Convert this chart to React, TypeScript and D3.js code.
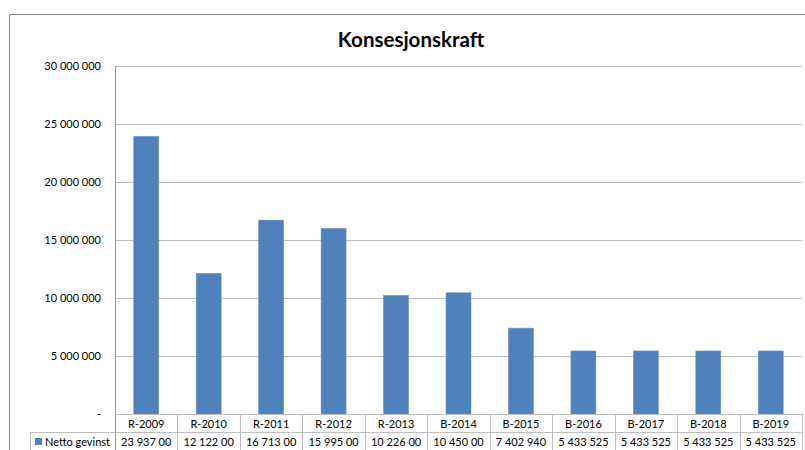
import React from "react";
import * as d3 from "d3";

const categories = ["R-2009", "R-2010", "R-2011", "R-2012", "R-2013", "B-2014", "B-2015", "B-2016", "B-2017", "B-2018", "B-2019"];
const values = [23937000, 12122000, 16713000, 15995000, 10226000, 10450000, 7402940, 5433525, 5433525, 5433525, 5433525];
const yTicks = [0, 5000000, 10000000, 15000000, 20000000, 25000000, 30000000];
const seriesName = "Netto gevinst";
const title = "Konsesjonskraft";

const W = 805;
const H = 450;
const FONT = "Lato, 'Open Sans', sans-serif";

const fmt = (v: number) => {
  if (v === 0) return "-";
  const s = d3.format(",")(v).replace(/,/g, " ");
  return s;
};
const cellText = (v: number) => {
  const s = fmt(v);
  return s.length > 9 ? s.slice(0, 9) : s;
};

export default function App() {
  const left = 115;
  const right = 802;
  const top = 66;
  const bottom = 414;
  const x = d3.scaleBand<string>().domain(categories).range([left, right]).paddingInner(0.6).paddingOuter(0.3);
  const xb = d3.scaleBand<string>().domain(categories).range([left, right]);
  const y = d3.scaleLinear().domain([0, 30000000]).range([bottom, top]);
  const row1 = bottom;
  const row2 = 432;
  const row3 = 451;

  return (
    <svg width={W} height={H} style={{ position: "absolute", left: 0, top: 0, background: "#fff" }} fontFamily={FONT}>
      <rect x={0} y={0} width={W} height={H} fill="#fff" />
      {/* outer border */}
      <path d={`M9.5,${H} V14.5 H${W}`} fill="none" stroke="#868686" strokeWidth={1} />
      <text x={411} y={47} textAnchor="middle" fontSize={20.5} fontWeight="bold" fill="#000">{title}</text>
      {/* gridlines */}
      {yTicks.map((t) => (
        <g key={t}>
          {t > 0 && <line x1={left} x2={right} y1={Math.round(y(t)) + 0.5} y2={Math.round(y(t)) + 0.5} stroke="#bfbfbf" strokeWidth={1} />}
          <text x={101} y={y(t) + 4} textAnchor="end" fontSize={11} fill="#000">{fmt(t)}</text>
        </g>
      ))}
      {/* bars */}
      {categories.map((c, i) => (
        <rect key={c} x={x(c)} y={y(values[i])} width={x.bandwidth()} height={bottom - y(values[i])} fill="#4f81bd" stroke="#6f97c9" strokeWidth={0.6} />
      ))}
      {/* axis / table lines */}
      <line x1={left + 0.5} x2={left + 0.5} y1={top} y2={H} stroke="#9a9a9a" />
      <line x1={left} x2={right} y1={row1 + 0.5} y2={row1 + 0.5} stroke="#bfbfbf" />
      <line x1={30} x2={right} y1={row2 + 0.5} y2={row2 + 0.5} stroke="#bfbfbf" />
      <line x1={30} x2={right} y1={row3 + 0.5} y2={row3 + 0.5} stroke="#bfbfbf" />
      <line x1={30.5} x2={30.5} y1={row2} y2={H} stroke="#bfbfbf" />
      {categories.map((c) => (
        <line key={c} x1={Math.round((xb(c) as number) + xb.bandwidth()) + 0.5} x2={Math.round((xb(c) as number) + xb.bandwidth()) + 0.5} y1={row1} y2={H} stroke="#bfbfbf" />
      ))}
      {categories.map((c, i) => (
        <g key={c}>
          <text x={(xb(c) as number) + xb.bandwidth() / 2} y={row1 + 14} textAnchor="middle" fontSize={11} fill="#000">{c}</text>
          <text x={(xb(c) as number) + xb.bandwidth() / 2} y={row2 + 14} textAnchor="middle" fontSize={11} fill="#000">{cellText(values[i])}</text>
        </g>
      ))}
      <rect x={35} y={row2 + 6} width={7} height={7} fill="#4f81bd" />
      <text x={45} y={row2 + 14} fontSize={11} fill="#000">{seriesName}</text>
    </svg>
  );
}
